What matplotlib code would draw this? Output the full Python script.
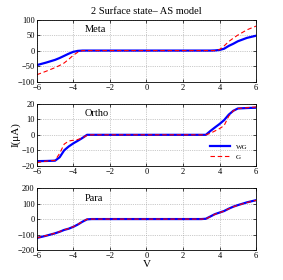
import numpy as np
from matplotlib import pyplot as plt

plt.rcParams['font.family'] = ['Liberation Serif', 'DejaVu Serif']

# %% data
v = [-6, -5.5, -5, -4.75, -4.5, -4.25, -4, -3.75, -3.5, -3.25, -3, 0,
     3, 3.25, 3.5, 3.75, 4, 4.25, 4.5, 4.75, 5, 5.5, 6]

meta_wg = [-47, -39, -30, -24, -17, -10, -4, -1, 0, 0, 0, 0,
           0, 0, 0, 0.5, 2, 6, 15, 22, 30, 41, 48]
meta_g = [-78, -67, -55, -48, -40, -28, -15, -5, 0, 0, 0, 0,
          0, 0, 0, 0, 3, 15, 29, 40, 50, 67, 79]

ortho_wg = [-17, -16.9, -16.7, -14.5, -10, -7.5, -5.5, -3.8, -2, 0, 0, 0,
            0, 0, 2.5, 4.8, 7, 9.5, 13, 15.5, 17, 17.3, 17.5]
ortho_g = [-18, -17, -16.5, -12, -6, -4, -3.5, -3, -2, -0.3, 0, 0,
           0, 0, 1, 2.5, 4, 6, 12, 15.5, 17, 17.5, 18]

para_wg = [-122, -108, -92, -82, -70, -62, -50, -35, -17, -2, 0, 0,
           0, 2, 17, 32, 42, 52, 67, 80, 90, 108, 122]
para_g = [-121, -107, -91, -81, -70, -61, -49, -34, -16, -1, 0, 0,
          0, 1, 16, 31, 42, 51, 66, 79, 89, 107, 121]

names = ['Meta', 'Ortho', 'Para']
wg_all = [meta_wg, ortho_wg, para_wg]
g_all = [meta_g, ortho_g, para_g]
ylims = [(-100, 100), (-20, 20), (-200, 200)]
yticks = [[-100, -50, 0, 50, 100], [-20, -10, 0, 10, 20], [-200, -100, 0, 100, 200]]

# %% plot
fig, axes = plt.subplots(3, 1, figsize=(2.83, 2.80), dpi=100)
fig.subplots_adjust(left=0.13, right=0.905, top=0.93, bottom=0.107, hspace=0.36)

for ax, name, wg, g, yl, yt in zip(axes, names, wg_all, g_all, ylims, yticks):
    ax.plot(v, wg, color='#0000ff', lw=1.6, label='WG')
    ax.plot(v, g, color='#ff0000', lw=0.8, ls=(0, (4, 2.5)), label='G')
    ax.set_xlim(-6, 6)
    ax.set_ylim(*yl)
    ax.set_yticks(yt)
    ax.set_xticks([-6, -4, -2, 0, 2, 4, 6])
    ax.grid(True, ls=':', lw=0.5, color='#999999')
    ax.tick_params(direction='in', labelsize=6, length=2, width=0.5, pad=1.5,
                   top=True, right=True)
    for s in ax.spines.values():
        s.set_linewidth(0.6)
    ax.text(0.22, 0.84, name, transform=ax.transAxes, fontsize=7.5, va='center')

axes[0].set_title('2 Surface state\u2013 AS model', fontsize=7.5, pad=4)
axes[1].set_ylabel('I(\u03bcA)', fontsize=8, labelpad=1)
axes[2].set_xlabel('V', fontsize=8, labelpad=0)
axes[1].legend(loc='lower right', fontsize=5, frameon=False, handlelength=3,
               bbox_to_anchor=(0.99, 0.0), labelspacing=0.6)

fig.savefig('out.png', dpi=100)
